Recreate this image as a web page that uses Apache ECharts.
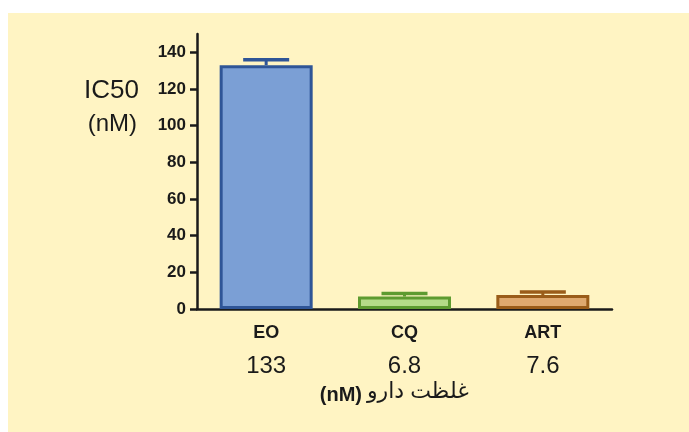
<!DOCTYPE html>
<html>
<head>
<meta charset="utf-8">
<script src="https://cdn.jsdelivr.net/npm/echarts@6/dist/echarts.min.js"></script>
<style>html,body{margin:0;padding:0;background:#fff}#c{width:689px;height:432px}</style>
</head>
<body>
<div id="c"></div>
<script>
const categories = ['EO', 'CQ', 'ART'];
const ic50Values = [133, 6.8, 7.6];
const errorUpper = [136, 8.5, 9.3];
const valueLabels = ['133', '6.8', '7.6'];
const yTicks = [0, 20, 40, 60, 80, 100, 120, 140];
const fillColors = ['#7B9FD5', '#B5DB88', '#DFA96F'];
const edgeColors = ['#2F5597', '#5E9B30', '#9A5C19'];

const FONT = 'Arial, "Liberation Sans", "DejaVu Sans", sans-serif';
const chart = echarts.init(document.getElementById('c'), null, {renderer: 'canvas'});

chart.setOption({
  backgroundColor: '#ffffff',
  animation: false,
  graphic: [
    {type: 'rect', z: -10, shape: {x: 8, y: 13, width: 689, height: 432}, style: {fill: '#FFF4C3'}},
    {type: 'text', x: 139, y: 91, style: {text: 'IC50', fontSize: 26, fontFamily: FONT, fill: '#1a1a1a', align: 'right', verticalAlign: 'middle'}},
    {type: 'text', x: 137, y: 124, style: {text: '(nM)', fontSize: 24, fontFamily: FONT, fill: '#1a1a1a', align: 'right', verticalAlign: 'middle'}},
    {type: 'text', x: 362, y: 395, style: {text: '(nM)', fontSize: 20, fontWeight: 'bold', fontFamily: FONT, fill: '#1a1a1a', align: 'right', verticalAlign: 'middle'}},
    {type: 'text', x: 367, y: 392, style: {text: 'غلظت دارو', fontSize: 22, fontFamily: FONT, fill: '#1a1a1a', align: 'left', verticalAlign: 'middle'}}
  ],
  grid: {left: 197, right: 77, top: 34, bottom: 123, containLabel: false},
  xAxis: {
    type: 'category',
    data: categories,
    axisLine: {lineStyle: {color: '#1a1a1a', width: 2.5}},
    axisTick: {alignWithLabel: true, length: 6, lineStyle: {color: '#1a1a1a', width: 2.5}},
    axisLabel: {
      margin: 14,
      formatter: function (v, i) { return '{a|' + v + '}\n{b|' + valueLabels[i] + '}'; },
      rich: {
        a: {fontSize: 18, fontWeight: 'bold', fontFamily: FONT, color: '#1a1a1a', lineHeight: 20},
        b: {fontSize: 24, fontFamily: FONT, color: '#1a1a1a', lineHeight: 46}
      }
    }
  },
  yAxis: {
    type: 'value',
    min: 0, max: 150,
    splitLine: {show: false},
    axisLine: {show: true, lineStyle: {color: '#1a1a1a', width: 2.5}},
    axisTick: {show: true, length: 7, customValues: yTicks, lineStyle: {color: '#1a1a1a', width: 2.5}},
    axisLabel: {customValues: yTicks, margin: 11, color: '#1a1a1a', fontWeight: 'bold', fontSize: 17, fontFamily: FONT}
  },
  series: [
    {
      type: 'bar',
      barWidth: 93,
      data: ic50Values.map(function (v, i) {
        return {value: v, itemStyle: {color: fillColors[i], borderColor: edgeColors[i], borderWidth: 3}};
      }),
      z: 2
    },
    {
      type: 'custom',
      z: 3,
      data: ic50Values.map(function (v, i) { return [i, v, errorUpper[i]]; }),
      renderItem: function (params, api) {
        const i = api.value(0);
        const base = api.coord([i, api.value(1)]);
        const top = api.coord([i, api.value(2)]);
        const half = 23;
        const col = edgeColors[i];
        return {
          type: 'group',
          children: [
            {type: 'line', shape: {x1: base[0], y1: base[1], x2: top[0], y2: top[1]}, style: {stroke: col, lineWidth: 3}},
            {type: 'line', shape: {x1: top[0] - half, y1: top[1], x2: top[0] + half, y2: top[1]}, style: {stroke: col, lineWidth: 3.5}}
          ]
        };
      }
    }
  ]
});
</script>
</body>
</html>
